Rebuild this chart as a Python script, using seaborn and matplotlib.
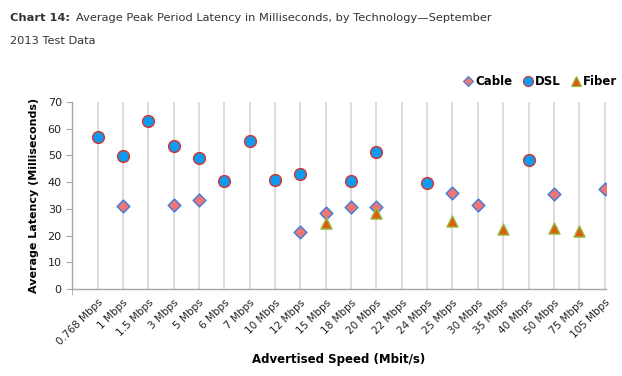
import pandas as pd
import numpy as np
import matplotlib
matplotlib.use("Agg")
import matplotlib.pyplot as plt
import seaborn as sns
from matplotlib.lines import Line2D
from matplotlib.ticker import FixedLocator

speeds = ["0.768 Mbps", "1 Mbps", "1.5 Mbps", "3 Mbps", "5 Mbps", "6 Mbps", "7 Mbps",
          "10 Mbps", "12 Mbps", "15 Mbps", "18 Mbps", "20 Mbps", "22 Mbps", "24 Mbps",
          "25 Mbps", "30 Mbps", "35 Mbps", "40 Mbps", "50 Mbps", "75 Mbps", "105 Mbps"]

cable_speeds = ["1 Mbps", "3 Mbps", "5 Mbps", "12 Mbps", "15 Mbps", "18 Mbps", "20 Mbps",
                "25 Mbps", "30 Mbps", "50 Mbps", "105 Mbps"]
cable_latency = [31.1, 31.3, 33.5, 21.2, 28.4, 30.6, 30.8, 36.0, 31.4, 35.4, 37.3]

dsl_speeds = ["0.768 Mbps", "1 Mbps", "1.5 Mbps", "3 Mbps", "5 Mbps", "6 Mbps", "7 Mbps",
              "10 Mbps", "12 Mbps", "18 Mbps", "20 Mbps", "24 Mbps", "40 Mbps"]
dsl_latency = [56.8, 49.6, 62.8, 53.4, 49.1, 40.4, 55.3, 40.7, 43.1, 40.5, 51.1, 39.6, 48.2]

fiber_speeds = ["15 Mbps", "20 Mbps", "25 Mbps", "35 Mbps", "50 Mbps", "75 Mbps"]
fiber_latency = [24.9, 28.3, 25.5, 22.4, 22.8, 21.6]

data = pd.concat([
    pd.DataFrame({"Speed": cable_speeds, "Latency": cable_latency, "Tech": "Cable"}),
    pd.DataFrame({"Speed": dsl_speeds, "Latency": dsl_latency, "Tech": "DSL"}),
    pd.DataFrame({"Speed": fiber_speeds, "Latency": fiber_latency, "Tech": "Fiber"}),
])

# marker, face, edge, size
styles = {
    "Cable": ("D", "#F07575", "#3D7DD8", 6.5),
    "DSL": ("o", "#0F9AF0", "#D8322A", 8.5),
    "Fiber": ("^", "#E25B0C", "#8FBF45", 8),
}

plt.rcParams["font.family"] = "DejaVu Sans"
fig = plt.figure(figsize=(6.22, 3.76), dpi=100)
ax = fig.add_axes([0.116, 0.231, 0.858, 0.498])

for i in range(len(speeds)):
    ax.axvline(i, color="#D9D9D9", lw=1.3, zorder=0)

handles = []
for tech, (mk, fc, ec, sz) in styles.items():
    sub = data[data["Tech"] == tech]
    sns.stripplot(data=sub, x="Speed", y="Latency", order=speeds, jitter=False,
                  marker=mk, color=fc, edgecolor=ec, linewidth=1.0, size=sz,
                  ax=ax, zorder=3)
    handles.append(Line2D([], [], ls="none", marker=mk, markerfacecolor=fc,
                          markeredgecolor=ec, markeredgewidth=0.8, markersize=sz * 0.85,
                          label=tech))

ax.set_xlim(-1, len(speeds) - 0.95)
ax.set_ylim(0, 70)
ax.set_yticks(range(0, 71, 10))
ax.tick_params(axis="y", labelsize=8, colors="#222222", length=4, color="#A6A6A6")
ax.tick_params(axis="x", which="major", length=0, labelsize=7.5, colors="#222222", pad=6)
ax.xaxis.set_minor_locator(FixedLocator([-1] + list(range(1, len(speeds), 2))))
ax.tick_params(axis="x", which="minor", length=4, color="#A6A6A6")
plt.setp(ax.get_xticklabels(), rotation=45, ha="right", rotation_mode="anchor")

for s in ["top", "right"]:
    ax.spines[s].set_visible(False)
for s in ["left", "bottom"]:
    ax.spines[s].set_color("#A6A6A6")
    ax.spines[s].set_linewidth(1)

ax.set_xlabel("Advertised Speed (Mbit/s)", fontsize=8.5, fontweight="bold", labelpad=4)
ax.set_ylabel("Average Latency (Milliseconds)", fontsize=8, fontweight="bold", labelpad=6)

ax.legend(handles=handles, loc="lower right", bbox_to_anchor=(1.03, 1.05), ncol=3,
          frameon=False, fontsize=8.5, handletextpad=0.1, columnspacing=0.8,
          handlelength=1.0, borderaxespad=0)
for t in ax.get_legend().get_texts():
    t.set_fontweight("bold")

fig.text(0.016, 0.945, "Chart 14:", fontsize=8.2, fontweight="bold", color="#333333")
fig.text(0.122, 0.945, "Average Peak Period Latency in Milliseconds, by Technology\u2014September",
         fontsize=8.2, color="#333333")
fig.text(0.016, 0.883, "2013 Test Data", fontsize=8.2, color="#333333")

fig.savefig("out.png", dpi=100)
